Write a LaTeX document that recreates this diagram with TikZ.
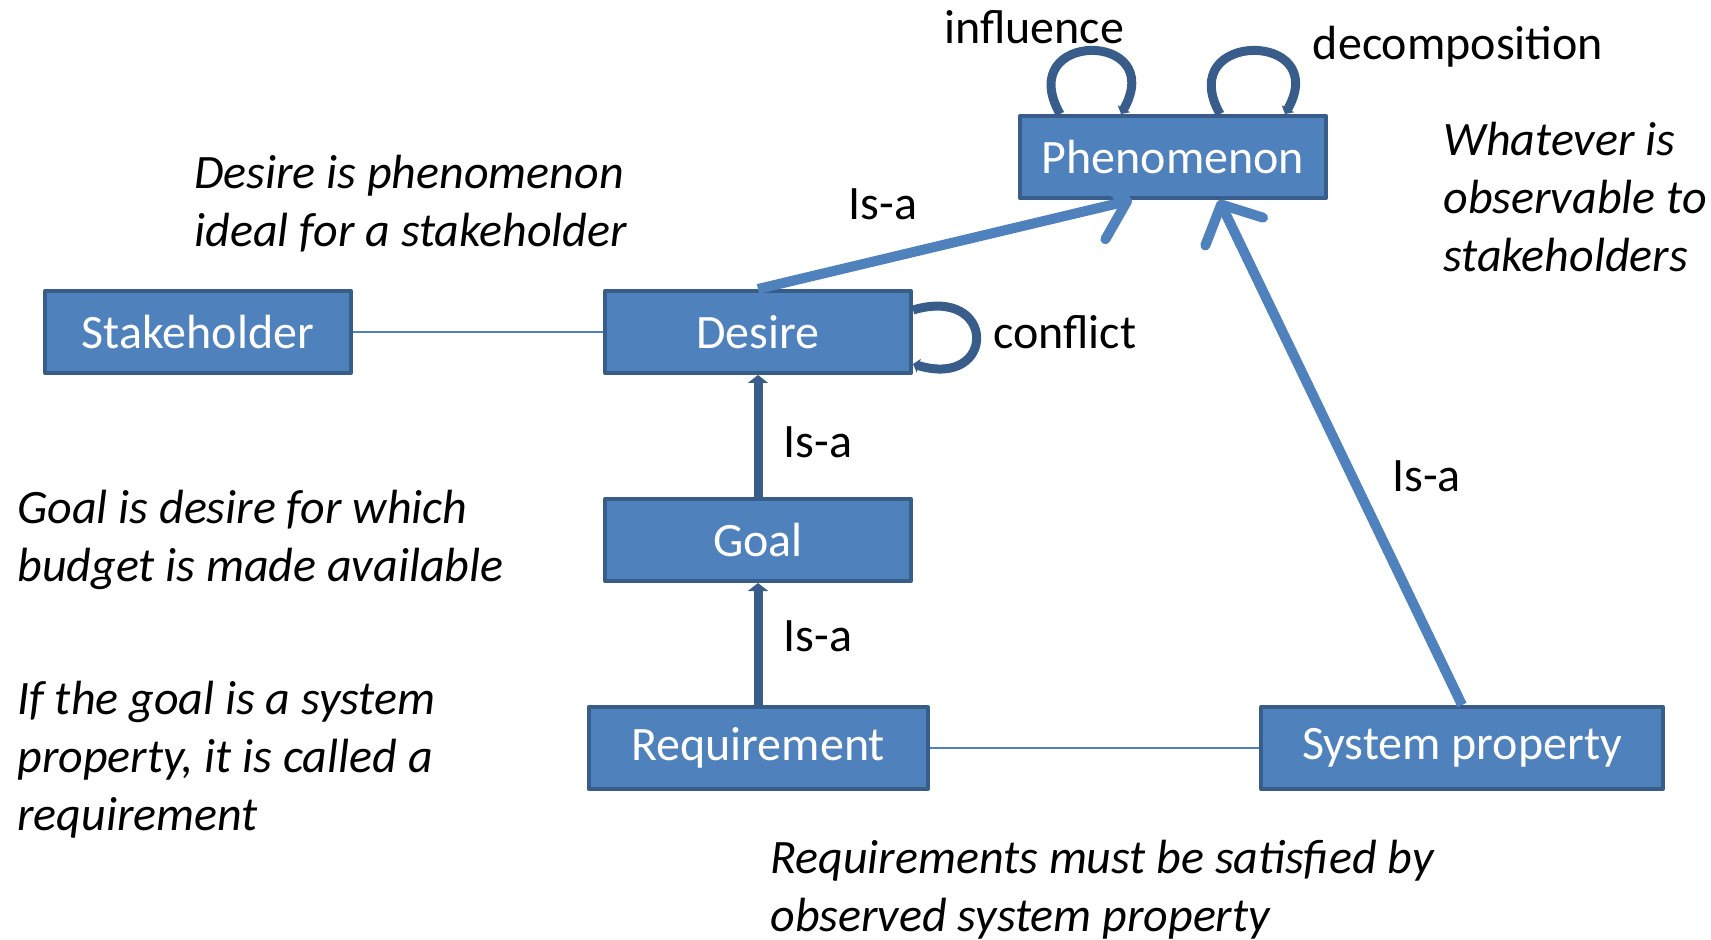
\documentclass[tikz,border=0pt]{standalone}
\usepackage{fontspec}
\setmainfont{Carlito}
\usetikzlibrary{arrows.meta,calc}
\definecolor{boxblue}{HTML}{4F81BD}
\definecolor{boxedge}{HTML}{385D8A}
\begin{document}
\begin{tikzpicture}[x=0.5pt,y=-0.5pt, line join=round,
	font=\fontsize{24}{29}\selectfont,
	box/.style={draw=boxedge,fill=boxblue,line width=2pt,text=white,minimum width=153pt,minimum height=41pt,inner sep=0pt},
	isa/.style={boxblue,line width=5pt,-{Straight Barb[length=15pt,width=32pt,round]}},
	sub/.style={boxedge,line width=4.5pt,-{Triangle[length=4pt,width=10pt]}},
	selfloop/.style={boxedge,line width=4.5pt,-{Triangle[length=3pt,width=7pt]}},
	link/.style={boxblue,line width=1pt},
	lab/.style={text=black,inner sep=0pt},
	note/.style={anchor=north west,align=left,inner sep=0pt,font=\fontsize{24}{29}\selectfont\itshape}]
	\useasboundingbox (0,0) rectangle (1711,940);
	% boxes
	\node[box] (phen) at (1173,157) {Phenomenon};
	\node[box] (stake) at (198,332) {Stakeholder};
	\node[box] (desire) at (758,332) {Desire};
	\node[box] (goal) at (758,540) {Goal};
	\node[box,minimum width=169.5pt] (req) at (758,748) {Requirement};
	\node[box,minimum width=201pt] (sysprop) at (1462,748) {System property};
	% connectors
	\draw[link] (stake) -- (desire);
	\draw[link] (req) -- (sysprop);
	\draw[isa] (desire.north) -- ($(phen.south)+(-41,0)$) node[midway,xshift=-31pt,yshift=20pt,lab]{Is-a};
	\draw[isa] (sysprop.north) -- ($(phen.south)+(46,0)$) node[midway,xshift=43pt,yshift=-12pt,lab]{Is-a};
	\draw[sub] (goal.north) -- (desire.south) node[midway,xshift=30pt,yshift=-3pt,lab]{Is-a};
	\draw[sub] (req.north) -- (goal.south) node[midway,xshift=30pt,yshift=4pt,lab]{Is-a};
	% self loops
	\draw[selfloop] ($(phen.north west)+(42,0)$) .. controls +(-47,-84) and +(47,-84) .. ($(phen.north west)+(103,0)$);
	\draw[selfloop] ($(phen.north west)+(202,0)$) .. controls +(-47,-84) and +(47,-84) .. ($(phen.north west)+(267,0)$);
	\draw[selfloop] ($(desire.east)+(0,-22)$) .. controls +(84,-25) and +(84,25) .. ($(desire.east)+(0,32)$);
	\node[lab] (influence) at (1034,27) {influence};
	\node[lab] (decomp) at (1458,47) {decomposition};
	\node[lab,anchor=west] (conflict) at (993,332) {conflict};
	% notes
	\node[note] (phennote) at (1443,122) {Whatever is\\observable to\\stakeholders};
	\node[note] (desirenote) at (194,155) {Desire is phenomenon\\ideal for a stakeholder};
	\node[note] (goalnote) at (17,490) {Goal is desire for which\\budget is made available};
	\node[note] (reqnote) at (17,681) {If the goal is a system\\property, it is called a\\requirement};
	\node[note] (satnote) at (770,840) {Requirements must be satisfied by\\observed system property};
\end{tikzpicture}
\end{document}
